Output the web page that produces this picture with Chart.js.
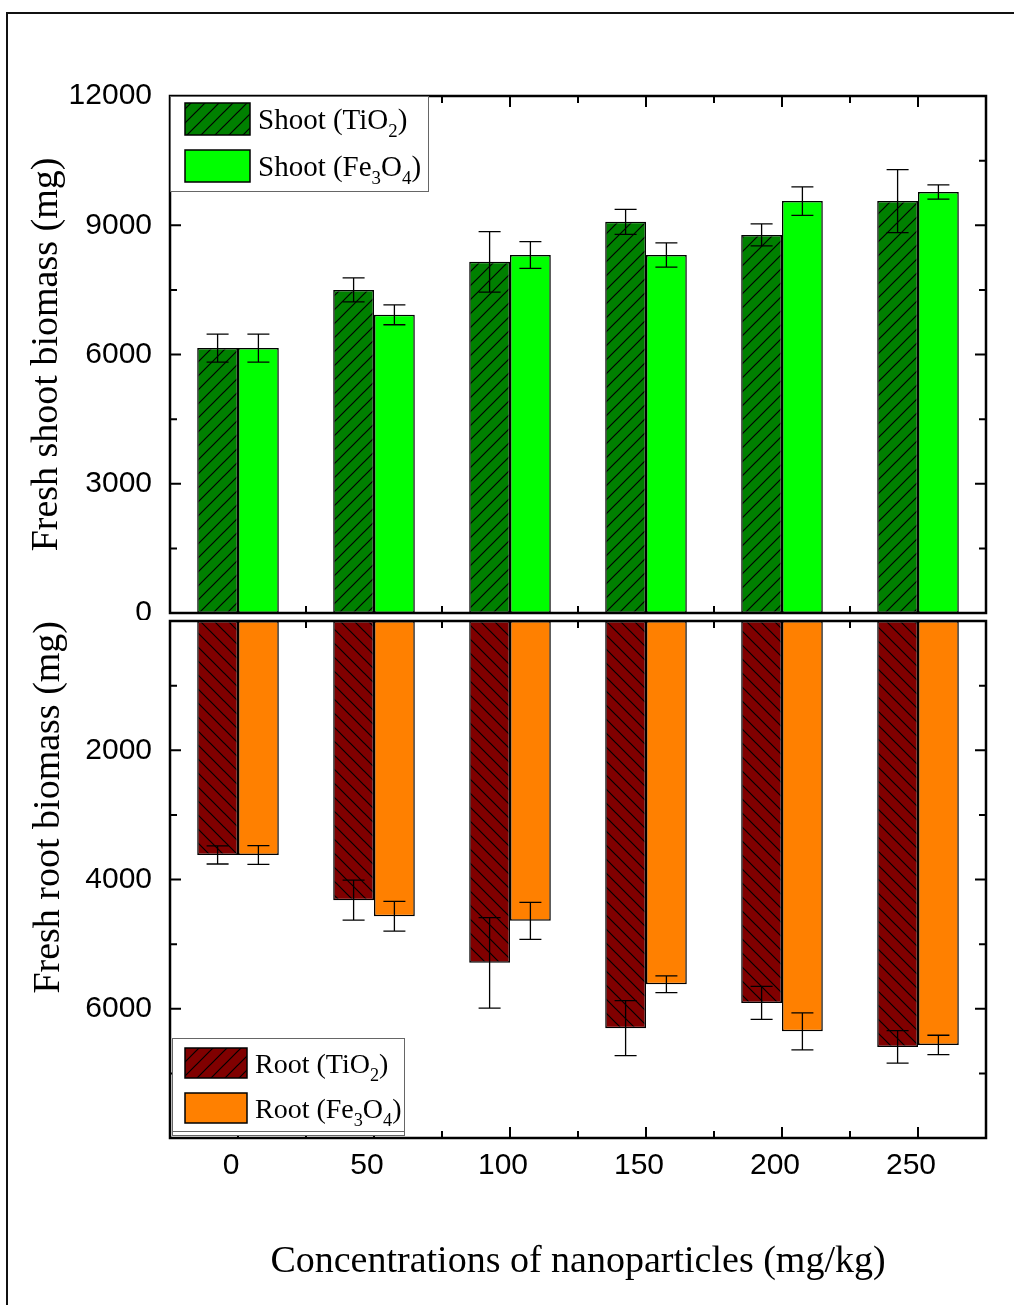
<!DOCTYPE html>
<html>
<head>
<meta charset="utf-8">
<script src="https://cdn.jsdelivr.net/npm/chart.js@4.4.1/dist/chart.umd.min.js"></script>
<style>
  html, body { margin: 0; padding: 0; background: #fff; }
  #page { position: relative; width: 1014px; height: 1305px; overflow: hidden; }
  #frame { position: absolute; left: 6px; top: 12px; width: 1100px; height: 1400px; border: 2px solid #111; }
  #top { position: absolute; left: 0; top: 0; }
  #bottom { position: absolute; left: 0; top: 617px; }
</style>
</head>
<body>
<div id="page">
  <div id="frame"></div>
  <canvas id="top" width="1014" height="620" style="width:1014px;height:620px"></canvas>
  <canvas id="bottom" width="1014" height="688" style="width:1014px;height:688px"></canvas>
</div>
<script>
// concentrations (mg/kg)
const concentrations = ['0', '50', '100', '150', '200', '250'];

// fresh shoot biomass (mg)
const shootTiO2 = [6150, 7500, 8150, 9080, 8775, 9560];
const shootTiO2Err = [325, 280, 700, 290, 255, 730];
const shootFe3O4 = [6150, 6920, 8310, 8310, 9560, 9770];
const shootFe3O4Err = [325, 230, 310, 280, 330, 165];

// fresh root biomass (mg)
const rootTiO2 = [3620, 4320, 5290, 6300, 5910, 6590];
const rootTiO2Err = [140, 310, 700, 425, 255, 250];
const rootFe3O4 = [3620, 4570, 4640, 5620, 6350, 6560];
const rootFe3O4Err = [145, 230, 285, 130, 285, 150];

const shootTicks = [0, 3000, 6000, 9000, 12000];
const rootTicks = [2000, 4000, 6000];

const shootLabels = ['Shoot (TiO₂)', 'Shoot (Fe₃O₄)'];
const rootLabels = ['Root (TiO₂)', 'Root (Fe₃O₄)'];

const SANS = '"Liberation Sans", Arial, sans-serif';
const SERIF = '"Liberation Serif", "Times New Roman", serif';

function hatch(ctx, bg, dir) {
  const s = 14;
  const c = document.createElement('canvas');
  c.width = s; c.height = s;
  const g = c.getContext('2d');
  g.fillStyle = bg;
  g.fillRect(0, 0, s, s);
  g.strokeStyle = '#000';
  g.lineWidth = 1.2;
  g.beginPath();
  if (dir > 0) {
    g.moveTo(0, s); g.lineTo(s, 0);
    g.moveTo(-2, 2); g.lineTo(2, -2);
    g.moveTo(s - 2, s + 2); g.lineTo(s + 2, s - 2);
  } else {
    g.moveTo(0, 0); g.lineTo(s, s);
    g.moveTo(-2, s - 2); g.lineTo(2, s + 2);
    g.moveTo(s - 2, -2); g.lineTo(s + 2, 2);
  }
  g.stroke();
  return ctx.createPattern(c, 'repeat');
}

// text with unicode subscripts drawn as lowered small digits
function drawChem(ctx, text, x, y, size) {
  const subs = '₀₁₂₃₄₅₆₇₈₉';
  const runs = [];
  for (const ch of text) {
    const k = subs.indexOf(ch);
    const sub = k >= 0;
    const c = sub ? String(k) : ch;
    if (runs.length && runs[runs.length - 1].sub === sub) runs[runs.length - 1].t += c;
    else runs.push({ t: c, sub: sub });
  }
  let cx = x;
  ctx.textAlign = 'left';
  ctx.textBaseline = 'alphabetic';
  runs.forEach(r => {
    const fs = r.sub ? size * 0.65 : size;
    ctx.font = fs + 'px ' + SERIF;
    ctx.fillText(r.t, cx, r.sub ? y + size * 0.28 : y);
    cx += ctx.measureText(r.t).width;
  });
}

const errorBars = {
  id: 'errorBars',
  afterDatasetsDraw(chart) {
    const ctx = chart.ctx, y = chart.scales.y;
    ctx.save();
    ctx.strokeStyle = '#000';
    ctx.lineWidth = 1.3;
    chart.data.datasets.forEach((ds, i) => {
      chart.getDatasetMeta(i).data.forEach((bar, j) => {
        const v = ds.data[j], e = ds.errors[j];
        const y1 = y.getPixelForValue(v - e), y2 = y.getPixelForValue(v + e);
        ctx.beginPath();
        ctx.moveTo(bar.x, y1); ctx.lineTo(bar.x, y2);
        ctx.moveTo(bar.x - 11, y1); ctx.lineTo(bar.x + 11, y1);
        ctx.moveTo(bar.x - 11, y2); ctx.lineTo(bar.x + 11, y2);
        ctx.stroke();
      });
    });
    ctx.restore();
  }
};

// closed frame with inward ticks on all four sides
const frameTicks = {
  id: 'frameTicks',
  afterDatasetsDraw(chart, args, opts) {
    const ctx = chart.ctx, a = chart.chartArea;
    const x = chart.scales.x, y = chart.scales.y;
    ctx.save();
    ctx.strokeStyle = '#000';
    ctx.lineWidth = 2.5;
    ctx.strokeRect(a.left, a.top, a.right - a.left, a.bottom - a.top);
    ctx.lineWidth = 2;
    ctx.beginPath();
    for (let v = y.min; v <= y.max; v += opts.minor) {
      const py = y.getPixelForValue(v);
      const len = v % opts.major === 0 ? 11 : 7;
      ctx.moveTo(a.left, py); ctx.lineTo(a.left + len, py);
      ctx.moveTo(a.right, py); ctx.lineTo(a.right - len, py);
    }
    const n = chart.data.labels.length;
    for (let i = 0; i < n; i++) {
      const px = x.getPixelForValue(i);
      ctx.moveTo(px, a.top); ctx.lineTo(px, a.top + 11);
      ctx.moveTo(px, a.bottom); ctx.lineTo(px, a.bottom - 11);
      if (i < n - 1) {
        const pm = (px + x.getPixelForValue(i + 1)) / 2;
        ctx.moveTo(pm, a.top); ctx.lineTo(pm, a.top + 7);
        ctx.moveTo(pm, a.bottom); ctx.lineTo(pm, a.bottom - 7);
      }
    }
    ctx.stroke();
    ctx.restore();
  }
};

const boxLegend = {
  id: 'boxLegend',
  afterDraw(chart, args, o) {
    const ctx = chart.ctx, a = chart.chartArea;
    const bx = a.left + o.x, by = a.top + o.y;
    ctx.save();
    ctx.fillStyle = '#fff';
    ctx.fillRect(bx, by, o.w, o.h);
    ctx.strokeStyle = '#666';
    ctx.lineWidth = 1;
    ctx.strokeRect(bx + 0.5, by + 0.5, o.w, o.h);
    if (o.doubleLine) {
      ctx.beginPath();
      ctx.moveTo(bx, by + o.h - 3.5); ctx.lineTo(bx + o.w, by + o.h - 3.5);
      ctx.stroke();
    }
    chart.data.datasets.forEach((ds, i) => {
      const sy = by + o.rows[i];
      ctx.fillStyle = o.swatches[i];
      ctx.fillRect(bx + o.sx, sy, o.sw, o.sh);
      ctx.strokeStyle = '#000';
      ctx.lineWidth = 1.5;
      ctx.strokeRect(bx + o.sx, sy, o.sw, o.sh);
      ctx.fillStyle = '#000';
      drawChem(ctx, ds.label, bx + o.tx, sy + o.sh / 2 + 10, o.size);
    });
    ctx.restore();
  }
};

function barSet(label, data, errors, fill) {
  return {
    label: label, data: data, errors: errors, yAxisID: 'y',
    backgroundColor: fill, borderColor: '#000', borderWidth: 1.5,
    borderSkipped: false, barPercentage: 1, categoryPercentage: 0.6
  };
}

// fixed axis width, no label overhang padding (chart area set by layout padding)
function fitWidth(w) {
  return s => {
    s.width = w;
    s.paddingTop = 0;
    s.paddingBottom = 0;
  };
}

const topCtx = document.getElementById('top').getContext('2d');
new Chart(topCtx, {
  type: 'bar',
  data: {
    labels: concentrations,
    datasets: [
      barSet(shootLabels[0], shootTiO2, shootTiO2Err, hatch(topCtx, '#008000', 1)),
      barSet(shootLabels[1], shootFe3O4, shootFe3O4Err, '#00ff00')
    ]
  },
  options: {
    responsive: false,
    animation: false,
    layout: { padding: { top: 96, bottom: 7, left: 0, right: 28 } },
    plugins: {
      legend: { display: false },
      tooltip: { enabled: false },
      frameTicks: { major: 3000, minor: 1500 },
      boxLegend: {
        x: 0, y: 0, w: 258, h: 95, sx: 15, sw: 65, sh: 32, rows: [7, 54], tx: 88, size: 29,
        swatches: [hatch(topCtx, '#008000', 1), '#00ff00']
      }
    },
    scales: {
      x: { display: false },
      y: {
        min: 0, max: 12000,
        afterFit: fitWidth(170),
        afterBuildTicks: s => { s.ticks = shootTicks.map(v => ({ value: v })); },
        grid: { display: false, drawTicks: false },
        border: { display: false },
        ticks: { color: '#000', padding: 18, font: { family: SANS, size: 30 }, callback: v => String(v) },
        title: {
          display: true, text: 'Fresh shoot biomass (mg)', color: '#000',
          font: { family: SERIF, size: 38 }, padding: { top: 24, bottom: 0 }
        }
      }
    }
  },
  plugins: [errorBars, frameTicks, boxLegend]
});

const botCtx = document.getElementById('bottom').getContext('2d');
new Chart(botCtx, {
  type: 'bar',
  data: {
    labels: concentrations,
    datasets: [
      barSet(rootLabels[0], rootTiO2, rootTiO2Err, hatch(botCtx, '#800000', -1)),
      barSet(rootLabels[1], rootFe3O4, rootFe3O4Err, '#ff8000')
    ]
  },
  options: {
    responsive: false,
    animation: false,
    layout: { padding: { top: 4, bottom: 0, left: 0, right: 28 } },
    plugins: {
      legend: { display: false },
      tooltip: { enabled: false },
      frameTicks: { major: 2000, minor: 1000 },
      boxLegend: {
        x: 2, y: 417, w: 232, h: 97, sx: 13, sw: 62, sh: 30, rows: [10, 55], tx: 83, size: 28,
        doubleLine: true,
        swatches: [hatch(botCtx, '#800000', 1), '#ff8000']
      }
    },
    scales: {
      x: {
        afterFit: s => { s.height = 167; },
        grid: { display: false, drawTicks: false },
        border: { display: false },
        ticks: { color: '#000', padding: 10, labelOffset: -7, font: { family: SANS, size: 30 } },
        title: {
          display: true, text: 'Concentrations of nanoparticles (mg/kg)', color: '#000',
          font: { family: SERIF, size: 38 }, padding: { top: 0, bottom: 20 }
        }
      },
      y: {
        min: 0, max: 8000, reverse: true, weight: 0,
        afterFit: fitWidth(100),
        afterBuildTicks: s => { s.ticks = rootTicks.map(v => ({ value: v })); },
        grid: { display: false, drawTicks: false },
        border: { display: false },
        ticks: { color: '#000', padding: 18, font: { family: SANS, size: 30 }, callback: v => String(v) }
      },
      // outer axis carrying only the title, aligned to the top end
      yt: {
        position: 'left', min: 0, max: 8000, weight: 1,
        afterFit: fitWidth(70),
        grid: { display: false, drawTicks: false },
        border: { display: false },
        ticks: { display: false },
        title: {
          display: true, text: 'Fresh root biomass (mg)', color: '#000', align: 'end',
          font: { family: SERIF, size: 38 }, padding: { top: 26, bottom: 0 }
        }
      }
    }
  },
  plugins: [errorBars, frameTicks, boxLegend]
});
</script>
</body>
</html>
